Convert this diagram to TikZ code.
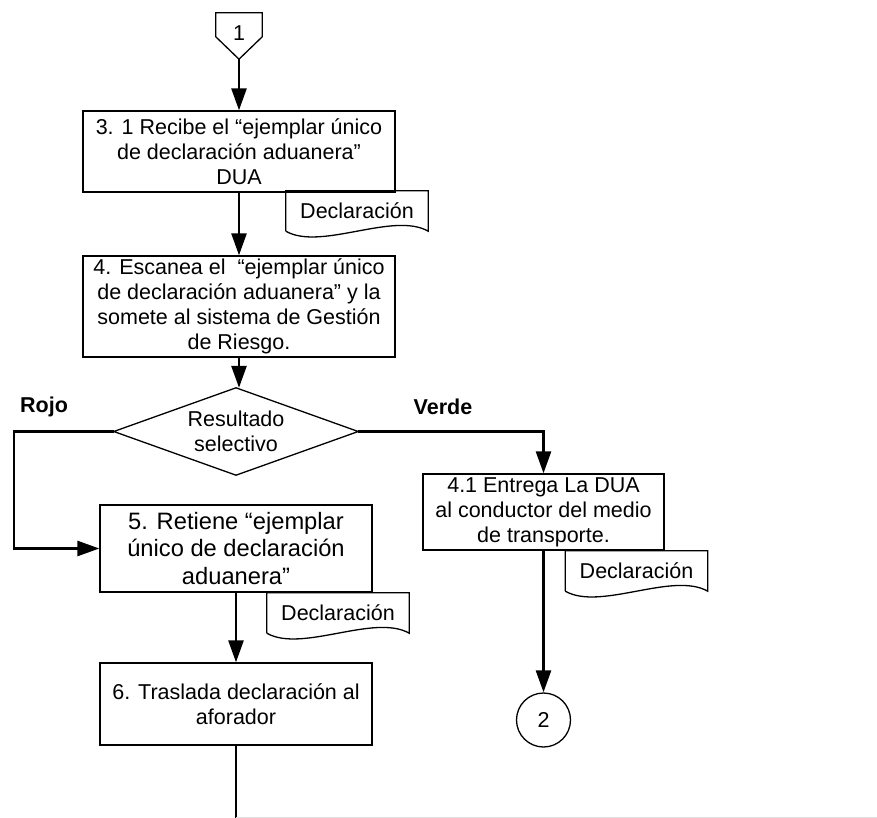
\documentclass[tikz,border=0pt]{standalone}
\usepackage{fontspec}
\setmainfont{Liberation Sans}
\usepackage{tikz}
\usetikzlibrary{arrows.meta, positioning, calc}

% hoja de documento con borde ondulado abajo
\newcommand{\docshape}[1]{%
  \draw[marco] (#1.south west) -- (#1.north west) -- (#1.north east) -- (#1.south east)
    .. controls ($(#1.south east)+(-35,-20)$) and ($(#1.south west)+(35,20)$) .. (#1.south west);}

\begin{document}
\begin{tikzpicture}[x=1pt, y=-1pt,
    texto/.style={font=\fontsize{21.5}{25}\selectfont},
    marco/.style={line width=1.3pt},
    caja/.style={texto, draw, marco, align=center, inner sep=0pt},
    hoja/.style={texto, inner sep=0pt, minimum width=142, minimum height=40},
    flecha/.style={line width=2.6pt, -{Triangle[length=22pt, width=15pt]}},
    linea/.style={line width=2.6pt}]

                        \useasboundingbox (0,0) rectangle (877,818);

                        % Conector de entrada y primeras actividades
                        \node (c1) [texto, inner sep=0pt, minimum width=46, minimum height=46] at (239,36) {\raisebox{6pt}{1}};
                        \draw[marco] (c1.north west) -- (c1.north east) -- ($(c1.north east)+(0,24)$) -- (c1.south) -- ($(c1.north west)+(0,24)$) -- cycle;
                        \node (b1) [caja, minimum width=312, minimum height=81] at (239,151.5) {3. 1 Recibe el “ejemplar único\\de declaración aduanera”\\DUA};
                        \node (d1) [hoja] at (357,211) {Declaración};
                        \docshape{d1}
                        \node (b2) [caja, minimum width=312, minimum height=101] at (239,306.5) {4. Escanea el \ “ejemplar único\\de declaración aduanera” y la\\somete al sistema de Gestión\\de Riesgo.};

                        % Decision
                        \node (dia) [texto, align=center, minimum width=244, minimum height=87, inner sep=0pt] at (236,431.5) {Resultado\\selectivo};
                        \draw[marco] (dia.north) -- (dia.east) -- (dia.south) -- (dia.west) -- cycle;
                        \node (rojo) [texto, font=\fontsize{21.5}{25}\selectfont\bfseries] at (44,407) {Rojo};
                        \node (verde) [texto, font=\fontsize{21.5}{25}\selectfont\bfseries] at (443,407) {Verde};
                        \coordinate (izq) at (14,0);

                        % Ramas
                        \node (b4) [caja, minimum width=241, minimum height=76] at (543.5,512) {4.1 Entrega La DUA\\al conductor del medio\\de transporte.};
                        \node (d4) [hoja] at (636.5,571) {Declaración};
                        \docshape{d4}
                        \node (c2) [texto, draw, marco, circle, minimum size=54, inner sep=0pt] at (543.5,720) {2};
                        \node (b5) [caja, font=\fontsize{23.7}{27.5}\selectfont, minimum width=272, minimum height=87] at (236,548.5) {5. Retiene “ejemplar\\único de declaración\\aduanera”};
                        \node (d5) [hoja] at (338,613) {Declaración};
                        \docshape{d5}
                        \node (b6) [caja, minimum width=272, minimum height=82] at (236,704) {6. Traslada declaración al\\aforador};
                        \coordinate (fin) at (236,818);

                        % Conectores
                        \draw[flecha] (c1.south) -- (b1.north);
                        \draw[flecha] (b1.south) -- (b2.north);
                        \draw[flecha] (b2.south) -- (b2.south |- dia.north);
                        \draw[flecha] (dia.west) -- (dia.west -| izq) |- (b5.west);
                        \draw[flecha] (dia.east) -| (b4.north);
                        \draw[flecha] (b4.south) -- (c2.north);
                        \draw[flecha] (b5.south) -- (b6.north);
                        \draw[linea] (b6.south) -- (fin);
                        \draw[gray!25, line width=1pt] (236,817) -- (877,817);

                \end{tikzpicture}
\end{document}
